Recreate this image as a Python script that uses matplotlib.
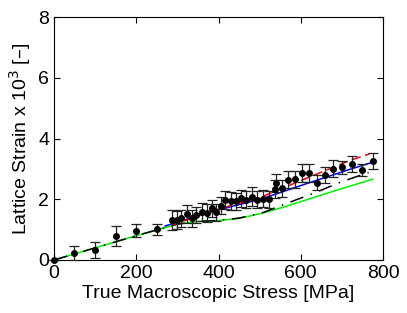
import numpy as np
import matplotlib.pyplot as plt

plt.rcParams['font.family'] = ['Liberation Sans', 'DejaVu Sans']
plt.rcParams['font.size'] = 12

# measured data (stress in MPa, strain x 1e3)
stress = [0, 49, 100, 150, 200, 250, 287, 298, 310, 323, 335, 346, 359, 371, 383,
          394, 405, 417, 431, 443, 455, 468, 481, 493, 509, 522, 538, 539, 554, 569,
          586, 604, 620, 639, 659, 679, 701, 724, 749, 775]
strain = [0.0, 0.24, 0.33, 0.79, 0.97, 1.01, 1.32, 1.32, 1.37, 1.51, 1.37, 1.48, 1.58,
          1.56, 1.71, 1.57, 1.79, 1.98, 1.93, 1.93, 2.03, 1.98, 2.09, 1.98, 2.01, 2.0,
          2.33, 2.53, 2.36, 2.64, 2.66, 2.86, 2.86, 2.54, 2.80, 3.01, 3.05, 3.16, 2.96, 3.26]
err = [0.0, 0.23, 0.25, 0.33, 0.22, 0.18, 0.32, 0.3, 0.28, 0.3, 0.28, 0.26, 0.3,
       0.3, 0.28, 0.28, 0.28, 0.3, 0.3, 0.28, 0.28, 0.28, 0.3, 0.28, 0.28, 0.28,
       0.3, 0.3, 0.28, 0.28, 0.28, 0.3, 0.3, 0.25, 0.25, 0.28, 0.22, 0.25, 0.2, 0.25]

# model curves
green_x = [0, 100, 200, 300, 350, 400, 450, 500, 550, 600, 650, 700, 775]
green_y = [0, 0.4, 0.8, 1.18, 1.27, 1.3, 1.37, 1.52, 1.71, 1.92, 2.14, 2.35, 2.66]
black_x = [0, 100, 200, 300, 350, 400, 450, 508, 573, 630, 700, 765]
black_y = [0, 0.4, 0.8, 1.18, 1.27, 1.3, 1.38, 1.56, 1.9, 2.19, 2.58, 2.88]
blue_x = [270, 350, 400, 478, 502, 600, 700, 770]
blue_y = [1.12, 1.45, 1.65, 1.92, 2.0, 2.45, 2.9, 3.2]
red_x = [285, 400, 502, 555, 614, 722, 767]
red_y = [1.14, 1.68, 2.06, 2.36, 2.69, 3.29, 3.49]

fig = plt.figure(figsize=(4.07, 3.13), dpi=100)
ax = fig.add_axes([54/407, 53/313, 329/407, 243/313])

ax.plot(green_x, green_y, color='#00ee00', lw=1.1)
ax.plot(black_x, black_y, color='black', lw=1.1, linestyle=(0, (9, 5, 1, 5)))
ax.plot(blue_x, blue_y, color='#0000ee', lw=1.1)
ax.plot(red_x, red_y, color='#ee0000', lw=1.1, linestyle=(0, (6, 3)))
ax.errorbar(stress, strain, yerr=err, fmt='o', color='black', ecolor='#222222',
            markersize=4, capsize=3.5, elinewidth=0.9, capthick=0.9, clip_on=False, zorder=5)

ax.set_xlim(0, 800)
ax.set_ylim(0, 8)
ax.set_xticks([0, 200, 400, 600, 800])
ax.set_yticks([0, 2, 4, 6, 8])
ax.tick_params(direction='in', top=True, right=True, length=4, width=0.8, labelsize=14)
ax.set_xlabel('True Macroscopic Stress [MPa]', fontsize=14, labelpad=2)
ax.set_ylabel('Lattice Strain x 10$^3$ [\u2013]', fontsize=14, labelpad=4)

plt.savefig('out.png', dpi=100)
